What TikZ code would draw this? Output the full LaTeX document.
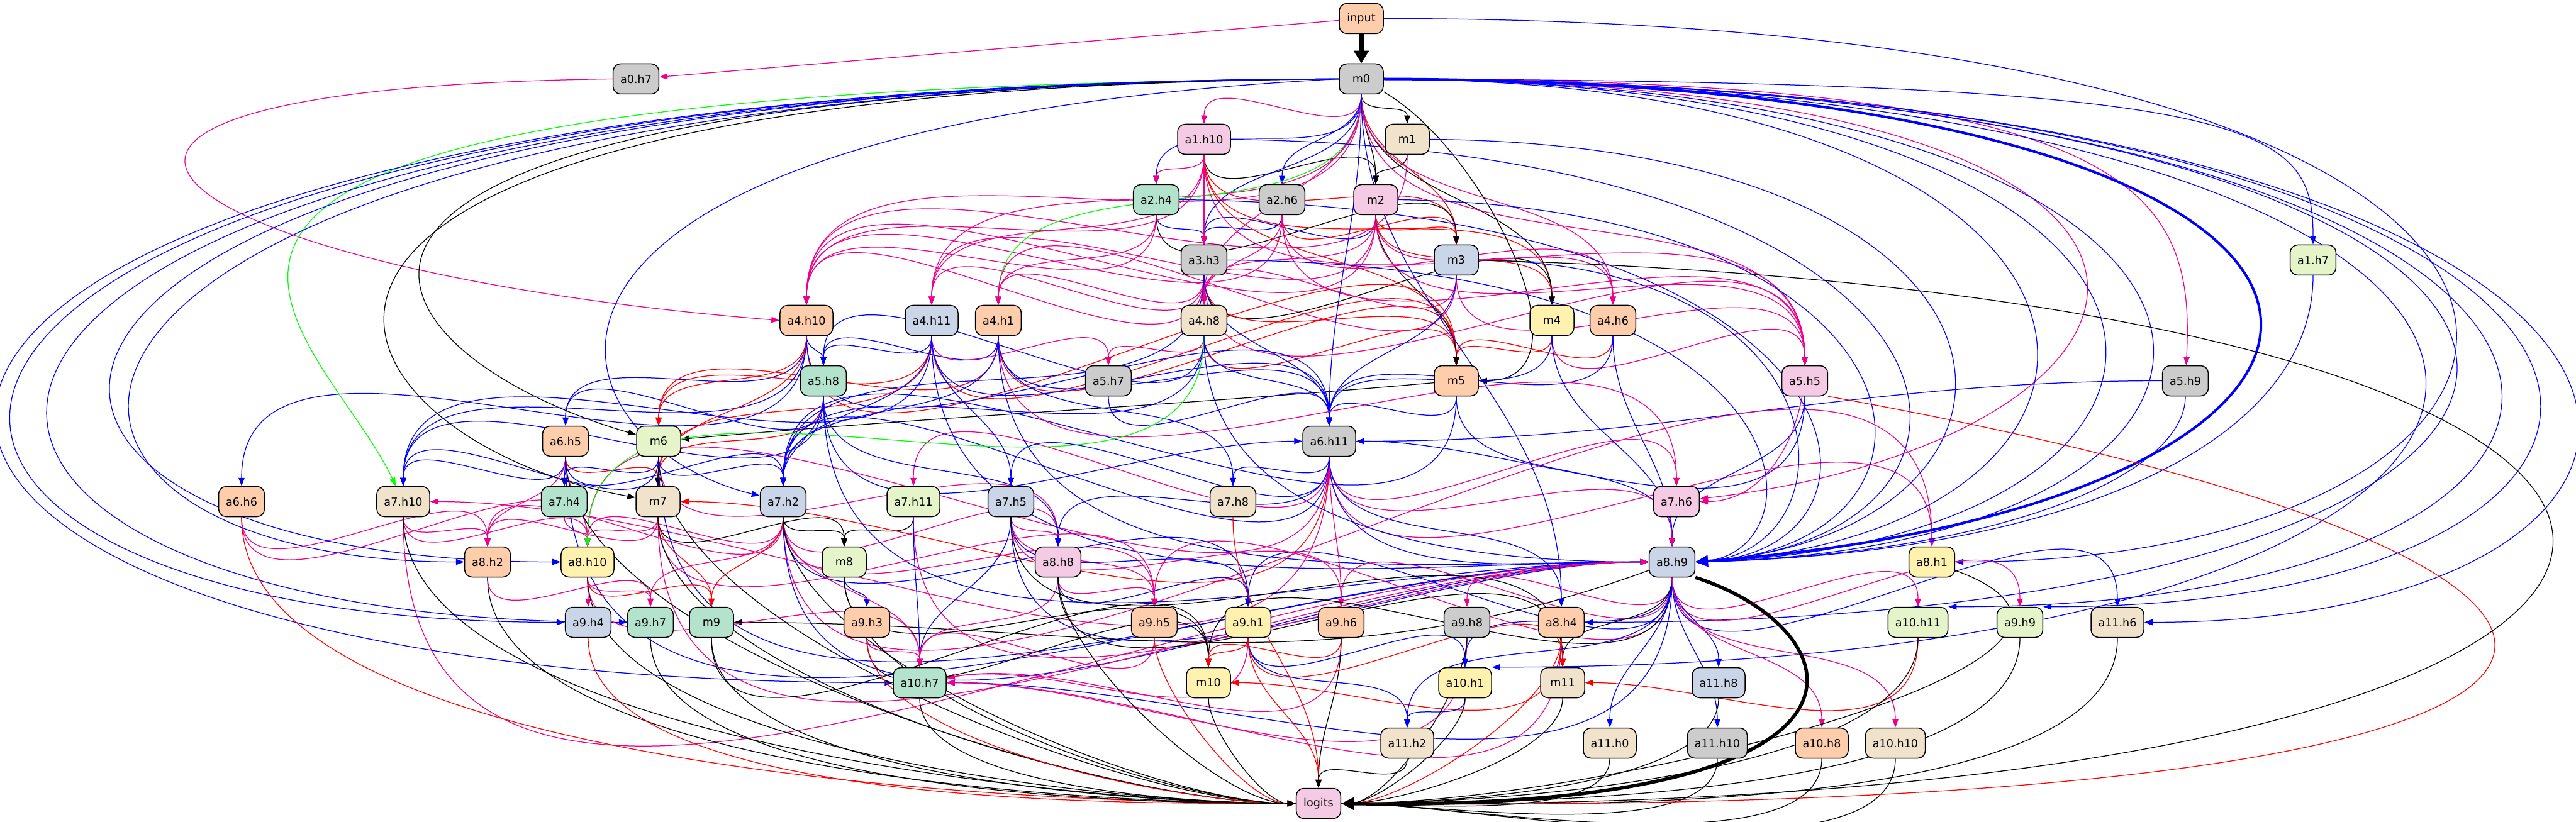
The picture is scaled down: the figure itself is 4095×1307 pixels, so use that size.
\documentclass[tikz,border=0pt]{standalone}
\usepackage{fontspec}
\setmainfont{DejaVu Sans}
\usetikzlibrary{arrows.meta, backgrounds}

\definecolor{pgreen}{HTML}{B3E2CD}
\definecolor{porange}{HTML}{FDCDAC}
\definecolor{pblue}{HTML}{CBD5E8}
\definecolor{ppink}{HTML}{F4CAE4}
\definecolor{plime}{HTML}{E6F5C9}
\definecolor{pyellow}{HTML}{FFF2AE}
\definecolor{ptan}{HTML}{F1E2CC}
\definecolor{pgray}{HTML}{CCCCCC}

\begin{document}
\begin{tikzpicture}[
    x=0.1mm, y=-0.1mm,
    block/.style={rectangle, draw, rounded corners=1.2mm, line width=0.15mm, minimum width=7mm, minimum height=4.8mm, inner xsep=1.15mm, inner ysep=0pt, align=center, font=\fontsize{5}{6}\selectfont},
    arrow/.style={-{Triangle[length=1.3mm, width=0.95mm]}, line width=0.125mm, out=-90, in=90},
    qarrow/.style={arrow, blue},
    karrow/.style={arrow, magenta},
    varrow/.style={arrow, red},
    marrow/.style={arrow, black},
    garrow/.style={arrow, green},
    leftin/.style={in=180, looseness=0.6},
    rightin/.style={in=0, looseness=0.6}
]
\useasboundingbox (0,0) rectangle (4095,1307);

% Input and residual stream
\node[block, fill=porange] (input) at (2164,29.5) {input};
\node[block, fill=pgray] (a0h7) at (1011,125.5) {a0.h7};
\node[block, fill=pgray] (m0) at (2164,125.5) {m0};
\node[block, fill=ppink] (a1h10) at (1914,221.5) {a1.h10};
\node[block, fill=ptan] (m1) at (2237,221.5) {m1};
\node[block, fill=pgreen] (a2h4) at (1838,317.5) {a2.h4};
\node[block, fill=pgray] (a2h6) at (2038,317.5) {a2.h6};
\node[block, fill=ppink] (m2) at (2187,317.5) {m2};
\node[block, fill=pgray] (a3h3) at (1914,413.5) {a3.h3};
\node[block, fill=pblue] (m3) at (2315,413.5) {m3};
\node[block, fill=plime] (a1h7) at (3677,413.5) {a1.h7};

% Layers 4-5
\node[block, fill=porange] (a4h10) at (1282,509.5) {a4.h10};
\node[block, fill=pblue] (a4h11) at (1481,509.5) {a4.h11};
\node[block, fill=porange] (a4h1) at (1587,509.5) {a4.h1};
\node[block, fill=ptan] (a4h8) at (1914,509.5) {a4.h8};
\node[block, fill=pyellow] (m4) at (2467,509.5) {m4};
\node[block, fill=porange] (a4h6) at (2564,509.5) {a4.h6};
\node[block, fill=pgreen] (a5h8) at (1309,605.5) {a5.h8};
\node[block, fill=pgray] (a5h7) at (1762,605.5) {a5.h7};
\node[block, fill=porange] (m5) at (2315,605.5) {m5};
\node[block, fill=ppink] (a5h5) at (2869,605.5) {a5.h5};
\node[block, fill=pgray] (a5h9) at (3474,605.5) {a5.h9};

% Layers 6-7
\node[block, fill=porange] (a6h5) at (899,701.5) {a6.h5};
\node[block, fill=plime] (m6) at (1047,701.5) {m6};
\node[block, fill=pgray] (a6h11) at (2113,701.5) {a6.h11};
\node[block, fill=porange] (a6h6) at (384,797.5) {a6.h6};
\node[block, fill=ptan] (a7h10) at (641,797.5) {a7.h10};
\node[block, fill=pgreen] (a7h4) at (897,797.5) {a7.h4};
\node[block, fill=ptan] (m7) at (1046,797.5) {m7};
\node[block, fill=pblue] (a7h2) at (1245,797.5) {a7.h2};
\node[block, fill=plime] (a7h11) at (1452,797.5) {a7.h11};
\node[block, fill=pblue] (a7h5) at (1607,797.5) {a7.h5};
\node[block, fill=ptan] (a7h8) at (1960,797.5) {a7.h8};
\node[block, fill=ppink] (a7h6) at (2665,797.5) {a7.h6};

% Layers 8-9
\node[block, fill=porange] (a8h2) at (775,893.5) {a8.h2};
\node[block, fill=pyellow] (a8h10) at (934,893.5) {a8.h10};
\node[block, fill=plime] (m8) at (1342,893.5) {m8};
\node[block, fill=ppink] (a8h8) at (1682,893.5) {a8.h8};
\node[block, fill=pblue] (a8h9) at (2658,893.5) {a8.h9};
\node[block, fill=pyellow] (a8h1) at (3071,893.5) {a8.h1};
\node[block, fill=pblue] (a9h4) at (935,989.5) {a9.h4};
\node[block, fill=pgreen] (a9h7) at (1034,989.5) {a9.h7};
\node[block, fill=pgreen] (m9) at (1131,989.5) {m9};
\node[block, fill=porange] (a9h3) at (1378,989.5) {a9.h3};
\node[block, fill=porange] (a9h5) at (1835,989.5) {a9.h5};
\node[block, fill=pyellow] (a9h1) at (1984,989.5) {a9.h1};
\node[block, fill=porange] (a9h6) at (2132,989.5) {a9.h6};
\node[block, fill=pgray] (a9h8) at (2332,989.5) {a9.h8};
\node[block, fill=porange] (a8h4) at (2482,989.5) {a8.h4};
\node[block, fill=plime] (a10h11) at (3049,989.5) {a10.h11};
\node[block, fill=plime] (a9h9) at (3211,989.5) {a9.h9};
\node[block, fill=ptan] (a11h6) at (3366,989.5) {a11.h6};

% Layers 10-11 and output
\node[block, fill=pgreen] (a10h7) at (1462,1085.5) {a10.h7};
\node[block, fill=pyellow] (m10) at (1921,1085.5) {m10};
\node[block, fill=pyellow] (a10h1) at (2329,1085.5) {a10.h1};
\node[block, fill=ptan] (m11) at (2484,1085.5) {m11};
\node[block, fill=pblue] (a11h8) at (2732,1085.5) {a11.h8};
\node[block, fill=ptan] (a11h2) at (2237,1181.5) {a11.h2};
\node[block, fill=ptan] (a11h0) at (2559,1181.5) {a11.h0};
\node[block, fill=pgray] (a11h10) at (2730,1181.5) {a11.h10};
\node[block, fill=porange] (a10h8) at (2896,1181.5) {a10.h8};
\node[block, fill=ptan] (a10h10) at (3013,1181.5) {a10.h10};
\node[block, fill=ppink] (logits) at (2096,1277.5) {logits};

\begin{scope}[on background layer]
\fill[white] (0,0) rectangle (4095,1307);

% Input
\draw[marrow, line width=0.8mm, -{Triangle[length=2mm, width=2.3mm]}] (input) -- (m0);
\draw[karrow] (input) -- (a0h7);
\draw[qarrow] (input.east) .. controls (4400,30) and (4200,893) .. (a8h1.east);

% Layers 1-3
\draw[karrow] (m0) to (a1h10);
\draw[marrow] (m0) to (m1);
\draw[qarrow] (m0) to (a2h4);
\draw[karrow] (a1h10) to (a2h4);
\draw[qarrow] (m0) to (a2h6);
\draw[marrow] (m0) to (m2);
\draw[marrow] (m1) to (m2);
\draw[marrow] (a1h10) to (m2);
\draw[qarrow] (a2h4) to (a3h3);
\draw[qarrow] (m0) to (a3h3);
\draw[qarrow] (a2h6) to (a3h3);
\draw[qarrow] (m2) to (a3h3);
\draw[karrow] (a1h10) to (a3h3);
\draw[varrow] (m0) to (m3);
\draw[varrow] (a1h10) to (m3);
\draw[varrow] (m2) to (m3);
\draw[varrow] (a2h6) to (m3);
\draw[marrow] (a2h4) to (m3);
\draw[qarrow] (m0.east) .. controls (3600,130) and (3677,200) .. (a1h7);

% Layer 4
\draw[karrow] (a0h7.west) .. controls (-150,140) and (250,430) .. (a4h10.west);
\draw[karrow] (m0) to (a4h10);
\draw[karrow] (a1h10) to (a4h10);
\draw[karrow] (a2h4) to (a4h10);
\draw[karrow] (a2h6) to (a4h10);
\draw[karrow] (m2) to (a4h10);
\draw[karrow] (a3h3) to (a4h10);
\draw[karrow] (m1) to (a4h10);
\draw[karrow] (m0) to (a4h11);
\draw[karrow] (a1h10) to (a4h11);
\draw[karrow] (a3h3) to (a4h11);
\draw[karrow] (m2) to (a4h11);
\draw[garrow] (m0) to (a4h1);
\draw[karrow] (a2h4) to (a4h1);
\draw[karrow] (a3h3) to (a4h1);
\draw[karrow] (m3) to (a4h1);
\draw[karrow] (a1h10) to (a4h8);
\draw[karrow] (a3h3) to (a4h8);
\draw[karrow] (a2h6) to (a4h8);
\draw[karrow] (m2) to (a4h8);
\draw[karrow] (m3) to (a4h8);
\draw[karrow] (m0) to (a4h8);
\draw[varrow] (m2) to (m4);
\draw[varrow] (a1h10) to (m4);
\draw[marrow] (m0) to (m4);
\draw[marrow] (a3h3) to (m4);
\draw[karrow] (m0) to (a4h6);
\draw[karrow] (a2h6) to (a4h6);
\draw[karrow] (m2) to (a4h6);

% Layer 5
\draw[qarrow] (a4h10) to (a5h8);
\draw[qarrow] (a4h11) to (a5h8);
\draw[qarrow] (a4h1) to (a5h8);
\draw[qarrow] (a4h8) to (a5h8);
\draw[karrow] (a4h11) to (a5h7);
\draw[karrow] (a4h8) to (a5h7);
\draw[varrow] (a4h1) to (m5);
\draw[varrow] (a4h11) to (m5);
\draw[varrow] (a4h8) to (m5);
\draw[varrow] (a4h10) to (m5);
\draw[varrow] (a3h3) to (m5);
\draw[varrow] (a1h10) to (m5);
\draw[varrow] (m4) to (m5);
\draw[varrow] (a4h6) to (m5);
\draw[marrow] (m2) to (m5);
\draw[marrow, out=-30, in=0] (m0) to (m5);
\draw[karrow] (m2) to (a5h5);
\draw[karrow] (a3h3) to (a5h5);
\draw[karrow] (a1h10) to (a5h5);
\draw[karrow] (m3) to (a5h5);
\draw[karrow] (m0) to (a5h5);
\draw[karrow] (a2h6) to (a5h5);
\draw[karrow] (m4) to (a5h5);
\draw[karrow] (m0.east) .. controls (3400,125) and (3490,300) .. (a5h9);

% Layer 6
\draw[qarrow] (a4h10) to (a6h5);
\draw[qarrow] (a5h8) to (a6h5);
\draw[varrow] (a4h10) to (m6);
\draw[varrow] (a4h11) to (m6);
\draw[varrow] (a4h1) to (m6);
\draw[marrow] (m0.west) .. controls (250,140) and (560,560) .. (m6);
\draw[marrow, out=185, in=5] (m5) to (m6);
\draw[qarrow] (m0) to (a6h11);
\draw[qarrow] (a3h3) to (a6h11);
\draw[qarrow] (m3) to (a6h11);
\draw[qarrow] (a4h10) to (a6h11);
\draw[qarrow] (a4h11) to (a6h11);
\draw[qarrow] (a4h1) to (a6h11);
\draw[qarrow] (a4h8) to (a6h11);
\draw[qarrow] (m4) to (a6h11);
\draw[qarrow] (a4h6) to (a6h11);
\draw[qarrow, in=180] (a5h8) to (a6h11);
\draw[qarrow] (a5h7) to (a6h11);
\draw[qarrow] (m5) to (a6h11);
\draw[qarrow, in=0] (a5h5) to (a6h11);
\draw[qarrow, out=180, in=0] (a5h9) to (a6h11);

% Layer 7
\draw[qarrow] (a4h10) to (a6h6);
\draw[garrow] (m0.west) .. controls (-100,140) and (500,500) .. (a7h10);
\draw[qarrow] (a4h10) to (a7h10);
\draw[qarrow] (a5h8) to (a7h10);
\draw[qarrow] (a4h11) to (a7h10);
\draw[qarrow] (a6h5) to (a7h10);
\draw[qarrow] (m6) to (a7h10);
\draw[karrow, in=0] (a6h11) to (a7h10);
\draw[qarrow] (a6h5) to (a7h4);
\draw[qarrow] (m6) to (a7h4);
\draw[varrow] (a6h5) to (m7);
\draw[varrow] (a4h11) to (m7);
\draw[varrow] (a5h8) to (m7);
\draw[varrow] (a4h10) to (m7);
\draw[varrow, in=0] (a6h11) to (m7);
\draw[marrow] (m0.west) .. controls (150,140) and (500,700) .. (m7);
\draw[marrow] (m6) to (m7);
\draw[qarrow] (m0.west) .. controls (700,200) and (850,700) .. (a7h2);
\draw[qarrow] (m6) to (a7h2);
\draw[qarrow] (a6h5) to (a7h2);
\draw[qarrow] (a6h11) to (a7h2);
\draw[qarrow] (a5h8) to (a7h2);
\draw[qarrow] (a4h1) to (a7h2);
\draw[qarrow] (a4h11) to (a7h2);
\draw[qarrow] (m5) to (a7h2);
\draw[qarrow] (a4h8) to (a7h2);
\draw[qarrow] (a3h3) to (a7h2);
\draw[karrow] (a6h11) to (a7h11);
\draw[qarrow] (a4h11) to (a7h5);
\draw[qarrow] (a6h11) to (a7h5);
\draw[qarrow] (a6h11) to (a7h8);
\draw[qarrow] (a4h1) to (a7h8);
\draw[karrow] (a6h11) to (a7h6);
\draw[karrow] (a4h1) to (a7h6);
\draw[karrow, out=-100, in=0] (a5h5) to (a7h6);
\draw[karrow] (m0.east) .. controls (3700,130) and (3500,700) .. (a7h6);

% Layer 8
\draw[qarrow] (m0.west) .. controls (-121,130) and (-121,893) .. (a8h2.west);
\draw[karrow] (a7h10) to (a8h2);
\draw[karrow] (a6h6) to (a8h2);
\draw[karrow] (a6h5) to (a8h2);
\draw[karrow] (m7) to (a8h2);
\draw[karrow] (a7h2) to (a8h2);
\draw[qarrow] (m0.west) .. controls (-211,130) and (-211,893) .. (a8h10.west);
\draw[karrow] (a7h10) to (a8h10);
\draw[karrow] (a6h5) to (a8h10);
\draw[karrow] (m7) to (a8h10);
\draw[karrow] (a7h4) to (a8h10);
\draw[karrow] (a7h2) to (a8h10);
\draw[karrow] (a6h11) to (a8h10);
\draw[karrow] (a6h6) to (a8h10);
\draw[garrow] (a4h8) to (a8h10);
\draw[marrow] (m7) to (m8);
\draw[marrow] (a7h2) to (m8);
\draw[marrow] (a7h11) to (m8);
\draw[karrow] (a7h5) to (a8h8);
\draw[karrow] (m6) to (a8h8);
\draw[karrow] (a7h2) to (a8h8);
\draw[qarrow] (a6h11) to (a8h8);
\draw[qarrow] (a5h8) to (a8h8);
\draw[karrow] (a6h11) to (a8h1);
\draw[karrow] (a7h2) to (a8h1);

% Into a8.h9
\draw[blue, line width=0.4mm, -{Triangle[length=2mm, width=1.8mm]}] (m0.east) .. controls (4000,130) and (3930,800) .. (a8h9.east);
\draw[qarrow] (m0.east) .. controls (3485,130) and (3485,850) .. (a8h9.east);
\draw[qarrow] (m0.east) .. controls (3632,130) and (3632,860) .. (a8h9.east);
\draw[qarrow] (m0.east) .. controls (3734,130) and (3734,870) .. (a8h9.east);
\draw[qarrow] (m1.east) .. controls (3300,230) and (3300,850) .. (a8h9.east);
\draw[qarrow] (a1h10.east) .. controls (3200,240) and (3250,860) .. (a8h9.east);
\draw[qarrow] (m2.east) .. controls (3100,330) and (3150,870) .. (a8h9.east);
\draw[qarrow] (a2h4.east) .. controls (3000,330) and (3050,880) .. (a8h9.east);
\draw[qarrow] (m3.east) .. controls (2950,420) and (2950,880) .. (a8h9.east);
\draw[qarrow] (a3h3.east) .. controls (2900,420) and (2900,880) .. (a8h9.east);
\draw[qarrow] (a1h7) .. controls (3677,700) and (3300,880) .. (a8h9.east);
\draw[qarrow] (a5h9) .. controls (3474,750) and (3200,880) .. (a8h9.east);
\draw[qarrow] (a5h5) to (a8h9);
\draw[qarrow] (a4h6) to (a8h9);
\draw[qarrow] (m4) to (a8h9);
\draw[qarrow] (m5) to (a8h9);
\draw[qarrow, in=180] (a7h2) to (a8h9);
\draw[qarrow, in=180] (a7h5) to (a8h9);
\draw[qarrow, in=180] (a6h11) to (a8h9);
\draw[qarrow, in=180] (a5h8) to (a8h9);
\draw[qarrow, in=180] (a4h11) to (a8h9);
\draw[qarrow, in=180] (a6h5) to (a8h9);
\draw[qarrow, in=180] (m6) to (a8h9);
\draw[qarrow, in=180] (a4h1) to (a8h9);
\draw[qarrow, in=180] (a4h8) to (a8h9);
\draw[karrow, in=180] (m7) to (a8h9);
\draw[karrow, in=180] (a7h10) to (a8h9);
\draw[karrow, in=180] (a7h11) to (a8h9);
\draw[karrow] (a6h11) to (a8h9);

% Layer 9
\draw[qarrow] (m0.west) .. controls (-431,130) and (-431,989) .. (a9h4.west);
\draw[karrow] (a8h10) to (a9h4);
\draw[qarrow] (m0.west) .. controls (-377,130) and (-377,989) .. (a9h7);
\draw[karrow] (a8h10) to (a9h7);
\draw[karrow] (a8h2) to (a9h7);
\draw[karrow] (a7h2) to (a9h7);
\draw[varrow] (a8h10) to (m9);
\draw[varrow] (m7) to (m9);
\draw[varrow] (a7h2) to (m9);
\draw[marrow, out=200, in=0] (a8h9) to (m9);
\draw[qarrow] (m8) to (a9h3);
\draw[karrow] (a7h5) to (a9h5);
\draw[karrow] (a8h8) to (a9h5);
\draw[karrow] (m7) to (a9h5);
\draw[karrow] (a7h2) to (a9h5);
\draw[karrow] (a8h9) to (a9h5);
\draw[qarrow] (a8h8) to (a9h1);
\draw[qarrow] (a7h5) to (a9h1);
\draw[qarrow] (a8h9) to (a9h1);
\draw[qarrow] (a7h2) to (a9h1);
\draw[karrow] (a6h11) to (a9h6);
\draw[karrow] (a7h5) to (a9h6);
\draw[karrow] (a8h9) to (a9h6);
\draw[karrow] (a8h9) to (a9h8);
\draw[qarrow] (a6h11) to (a8h4);
\draw[qarrow] (m0) to (a8h4);
\draw[qarrow] (m0.east) .. controls (4416,130) and (4416,989) .. (a8h4.east);
\draw[karrow] (a8h9) to (a10h11);
\draw[qarrow] (m0.east) .. controls (4388,130) and (4388,965) .. (a10h11.north east);
\draw[karrow] (a8h9) to (a9h9);
\draw[qarrow] (m0.east) .. controls (4433,130) and (4433,965) .. (a9h9.north east);
\draw[qarrow] (a8h9) to (a11h6);
\draw[qarrow] (m0.east) .. controls (4472,130) and (4472,989) .. (a11h6.east);

% Layer 10
\draw[qarrow] (m0.west) .. controls (-586,130) and (-586,1085) .. (a10h7.west);
\draw[qarrow] (a7h11) to (a10h7);
\draw[qarrow] (a7h5) to (a10h7);
\draw[qarrow, in=0] (a8h9) to (a10h7);
\draw[karrow] (a9h3) to (a10h7);
\draw[karrow] (a8h8) to (a10h7);
\draw[karrow] (a9h5) to (a10h7);
\draw[karrow, in=10] (a9h1) to (a10h7);
\draw[karrow, in=10] (a9h6) to (a10h7);
\draw[karrow, in=0] (a9h8) to (a10h7);
\draw[karrow, in=0] (a8h4) to (a10h7);
\draw[karrow] (a8h10) to (a10h7);
\draw[karrow] (a7h2) to (a10h7);
\draw[marrow] (a9h3) to (m10);
\draw[marrow] (m9) to (m10);
\draw[marrow] (m8) to (m10);
\draw[marrow] (a8h9) to (m10);
\draw[varrow] (a9h1) to (m10);
\draw[varrow] (a9h6) to (m10);
\draw[varrow, in=0] (a8h4) to (m10);
\draw[qarrow] (a9h1) to (a10h1);
\draw[qarrow] (a8h9) to (a10h1);
\draw[qarrow] (m0.east) .. controls (4377,130) and (4377,1060) .. (a10h1.north east);
\draw[marrow] (a8h8) to (m11);
\draw[marrow] (a7h5) to (m11);
\draw[marrow] (a8h9) to (m11);
\draw[varrow] (a8h4) to (m11);
\draw[varrow] (a9h1) to (m11);
\draw[varrow, in=0] (a10h11) to (m11);
\draw[qarrow] (a8h9) to (a11h8);

% Layer 11
\draw[qarrow] (a9h1) to (a11h2);
\draw[qarrow] (a10h1) to (a11h2);
\draw[qarrow] (a8h9) to (a11h2);
\draw[qarrow] (a8h9) to (a11h0);
\draw[qarrow] (a8h9) to (a11h10);
\draw[karrow] (a8h9) to (a10h8);
\draw[karrow] (a8h9) to (a10h10);

% Into logits
\draw[varrow, leftin] (a6h6) to (logits);
\draw[marrow, leftin] (a6h5) to (logits);
\draw[marrow, leftin] (m6) to (logits);
\draw[marrow, leftin] (a7h10) to (logits);
\draw[marrow, leftin] (m7) to (logits);
\draw[marrow, leftin] (a7h2) to (logits);
\draw[marrow, leftin] (a8h2) to (logits);
\draw[marrow, leftin] (a8h10) to (logits);
\draw[varrow, leftin] (a9h4) to (logits);
\draw[marrow, leftin] (a9h7) to (logits);
\draw[marrow, leftin] (m9) to (logits);
\draw[varrow, leftin] (a9h3) to (logits);
\draw[marrow, leftin] (m8) to (logits);
\draw[marrow, leftin] (a10h7) to (logits);
\draw[marrow, leftin] (a8h8) to (logits);
\draw[varrow, leftin] (a9h5) to (logits);
\draw[marrow, leftin] (m10) to (logits);
\draw[varrow] (a9h1) to (logits);
\draw[varrow] (a7h8) to (logits);
\draw[marrow] (a9h6) to (logits);
\draw[marrow] (a11h2) to (logits);
\draw[marrow, rightin] (a9h8) to (logits);
\draw[marrow, rightin] (a10h1) to (logits);
\draw[marrow, rightin] (m11) to (logits);
\draw[varrow, rightin] (a8h4) to (logits);
\draw[marrow, rightin] (a11h0) to (logits);
\draw[marrow, rightin] (a11h8) to (logits);
\draw[marrow, rightin] (a11h10) to (logits);
\draw[marrow, rightin] (a10h8) to (logits);
\draw[marrow, rightin] (a10h10) to (logits);
\draw[marrow, rightin] (a10h11) to (logits);
\draw[marrow, rightin] (a9h9) to (logits);
\draw[marrow, rightin] (a11h6) to (logits);
\draw[marrow, out=-20, in=0] (a8h1) to (logits);
\draw[black, line width=0.55mm, -{Triangle[length=2mm, width=1.9mm]}] (a8h9.south east) .. controls (2950,1000) and (3050,1290) .. (logits.east);
\draw[varrow] (a5h5.south east) .. controls (4400,900) and (4460,1300) .. (logits.east);
\draw[marrow] (m3.east) .. controls (4700,480) and (4620,1300) .. (logits.east);
\end{scope}

\end{tikzpicture}
\end{document}
